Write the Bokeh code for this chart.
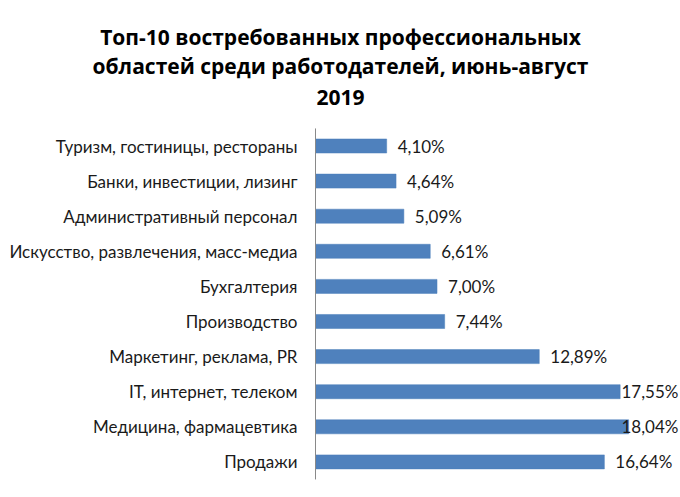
import numpy as np
from bokeh.plotting import figure
from bokeh.models import Range1d, LabelSet, ColumnDataSource, FixedTicker
from bokeh.core.properties import value
from bokeh.embed import file_html
from bokeh.resources import INLINE

title_lines = ["Топ-10 востребованных профессиональных",
               "областей среди работодателей, июнь-август",
               "2019"]
categories = ["Туризм, гостиницы, рестораны",
              "Банки, инвестиции, лизинг",
              "Административный персонал",
              "Искусство, развлечения, масс-медиа",
              "Бухгалтерия",
              "Производство",
              "Маркетинг, реклама, PR",
              "IT, интернет, телеком",
              "Медицина, фармацевтика",
              "Продажи"]
values = [4.10, 4.64, 5.09, 6.61, 7.00, 7.44, 12.89, 17.55, 18.04, 16.64]

FONT = "Lato"
TFONT = "Open Sans"
W, H = 680, 497

# layout geometry (pixels)
AXIS_X = 315          # x pixel of the value axis origin
PX_PER_UNIT = 17.36   # pixels per percent
FIRST_BAR_PX = 145.5  # y pixel of the first (top) bar centre
BAND_PX = 35.1        # category band height
TITLE_BASELINES_PX = [36.5, 65, 97]
TITLE_CENTER_PX = 340

n = len(categories)
ypos = list(range(n - 1, -1, -1))          # top category gets the highest position
y_top = (n - 1) + FIRST_BAR_PX / BAND_PX
y_bottom = y_top - H / BAND_PX
XMIN = -AXIS_X / PX_PER_UNIT
XMAX = (W - AXIS_X) / PX_PER_UNIT

def px_to_y(py):
    return y_top - py / BAND_PX

def px_to_x(px):
    return (px - AXIS_X) / PX_PER_UNIT

labels = [f"{v:.2f}".replace(".", ",") + "%" for v in values]
gap_px = 11
label_w = 56
limit = (W - AXIS_X - label_w - 3 - gap_px) / PX_PER_UNIT
label_x = list(np.minimum(values, limit))

src = ColumnDataSource(dict(y=ypos, val=values, lab=labels, lx=label_x))

p = figure(width=W, height=H, output_backend="svg", toolbar_location=None,
           x_range=Range1d(XMIN, XMAX), y_range=Range1d(y_bottom, y_top),
           min_border=0)

p.hbar(y="y", right="val", left=0, height=0.4, source=src,
       fill_color="#4F81BD", line_color="#4A7EBB", line_width=0.5)

# vertical category axis line (spans the category bands only)
p.segment(x0=[0], y0=[-0.5], x1=[0], y1=[n - 0.5],
          line_color="#898989", line_width=1)

ls = LabelSet(x="lx", y="y", text="lab", source=src, x_offset=gap_px,
              text_baseline="middle", text_align="left",
              text_font=value(FONT), text_font_size="17px", text_color="#1a1a1a")
p.add_layout(ls)

# title
p.text(x=[px_to_x(TITLE_CENTER_PX)] * len(title_lines),
       y=[px_to_y(b) for b in TITLE_BASELINES_PX], text=title_lines,
       text_align="center", text_baseline="alphabetic",
       text_font=value(TFONT), text_font_style="bold",
       text_font_size="21px", text_color="#000000")

p.xaxis.visible = False
p.xgrid.visible = False
p.ygrid.visible = False
p.outline_line_color = None
p.yaxis.fixed_location = 0
p.yaxis.ticker = FixedTicker(ticks=ypos)
p.yaxis.major_label_overrides = {y: c for y, c in zip(ypos, categories)}
p.yaxis.axis_line_color = None
p.yaxis.major_tick_line_color = None
p.yaxis.minor_tick_line_color = None
p.yaxis.major_label_standoff = 12
p.yaxis.major_label_text_font = FONT
p.yaxis.major_label_text_font_size = "17px"
p.yaxis.major_label_text_color = "#1a1a1a"

open("out.html", "w").write(file_html(p, INLINE))
